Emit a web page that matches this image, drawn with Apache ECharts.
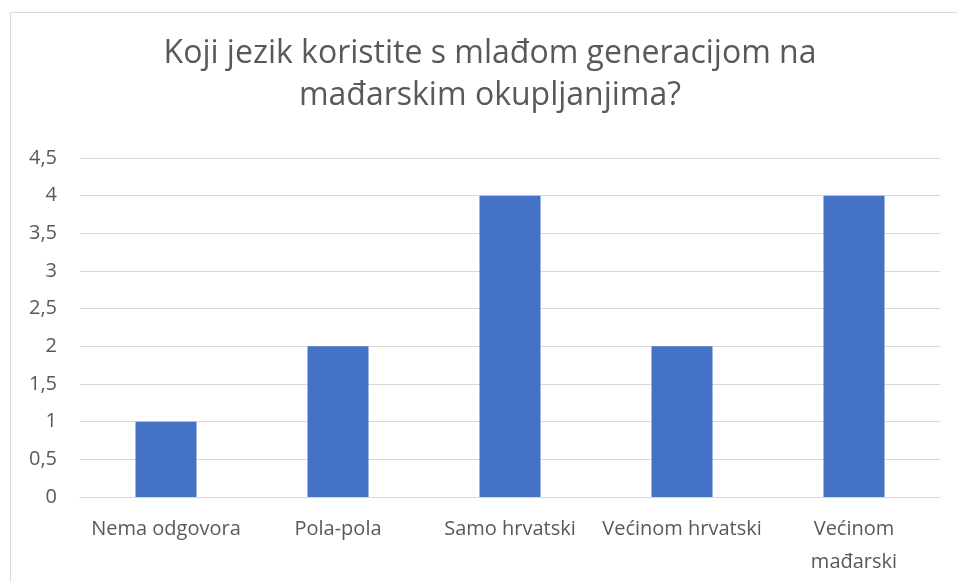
<!DOCTYPE html>
<html>
<head>
<meta charset="utf-8">
<script src="https://cdn.jsdelivr.net/npm/echarts@6/dist/echarts.min.js"></script>
<style>
  html, body { margin: 0; padding: 0; background: #fff; }
  #chart { width: 957px; height: 582px; }
</style>
</head>
<body>
<div id="chart"></div>
<script>
var categories = ['Nema odgovora', 'Pola-pola', 'Samo hrvatski', 'Većinom hrvatski', 'Većinom\nmađarski'];
var values = [1, 2, 4, 2, 4];
var titleText = 'Koji jezik koristite s mlađom generacijom na\nmađarskim okupljanjima?';

var font = 'Open Sans';
var myChart = echarts.init(document.getElementById('chart'));
myChart.setOption({
	animation: false,
	graphic: [{
		type: 'rect',
		shape: { x: 10.5, y: 12.5, width: 1200, height: 1000 },
		style: { fill: 'none', stroke: '#d9d9d9', lineWidth: 1 },
		silent: true
	}, {
		// title, centred on the chart box rather than the window
		type: 'text',
		x: 490,
		y: 33,
		silent: true,
		style: {
			text: titleText,
			fontFamily: font,
			fontSize: 32,
			lineHeight: 42,
			fill: '#595959',
			align: 'center',
			verticalAlign: 'top'
		}
	}],
	grid: {
		left: 80,
		right: 17,
		top: 158,
		bottom: 85
	},
	xAxis: [{
		type: 'category',
		data: categories,
		axisTick: { show: false },
		axisLine: { lineStyle: { color: '#d9d9d9' } },
		axisLabel: {
			interval: 0,
			margin: 16,
			fontFamily: font,
			fontSize: 20,
			lineHeight: 33,
			color: '#595959'
		}
	}],
	yAxis: [{
		type: 'value',
		min: 0,
		max: 4.5,
		interval: 0.5,
		axisLine: { show: false },
		axisTick: { show: false },
		splitLine: { lineStyle: { color: '#d9d9d9' } },
		axisLabel: {
			margin: 23,
			fontFamily: font,
			fontSize: 20,
			color: '#595959',
			formatter: function (v) { return String(v).replace('.', ','); }
		}
	}],
	series: [{
		type: 'bar',
		data: values,
		barWidth: 61,
		itemStyle: { color: '#4472c4' }
	}]
});
</script>
</body>
</html>
